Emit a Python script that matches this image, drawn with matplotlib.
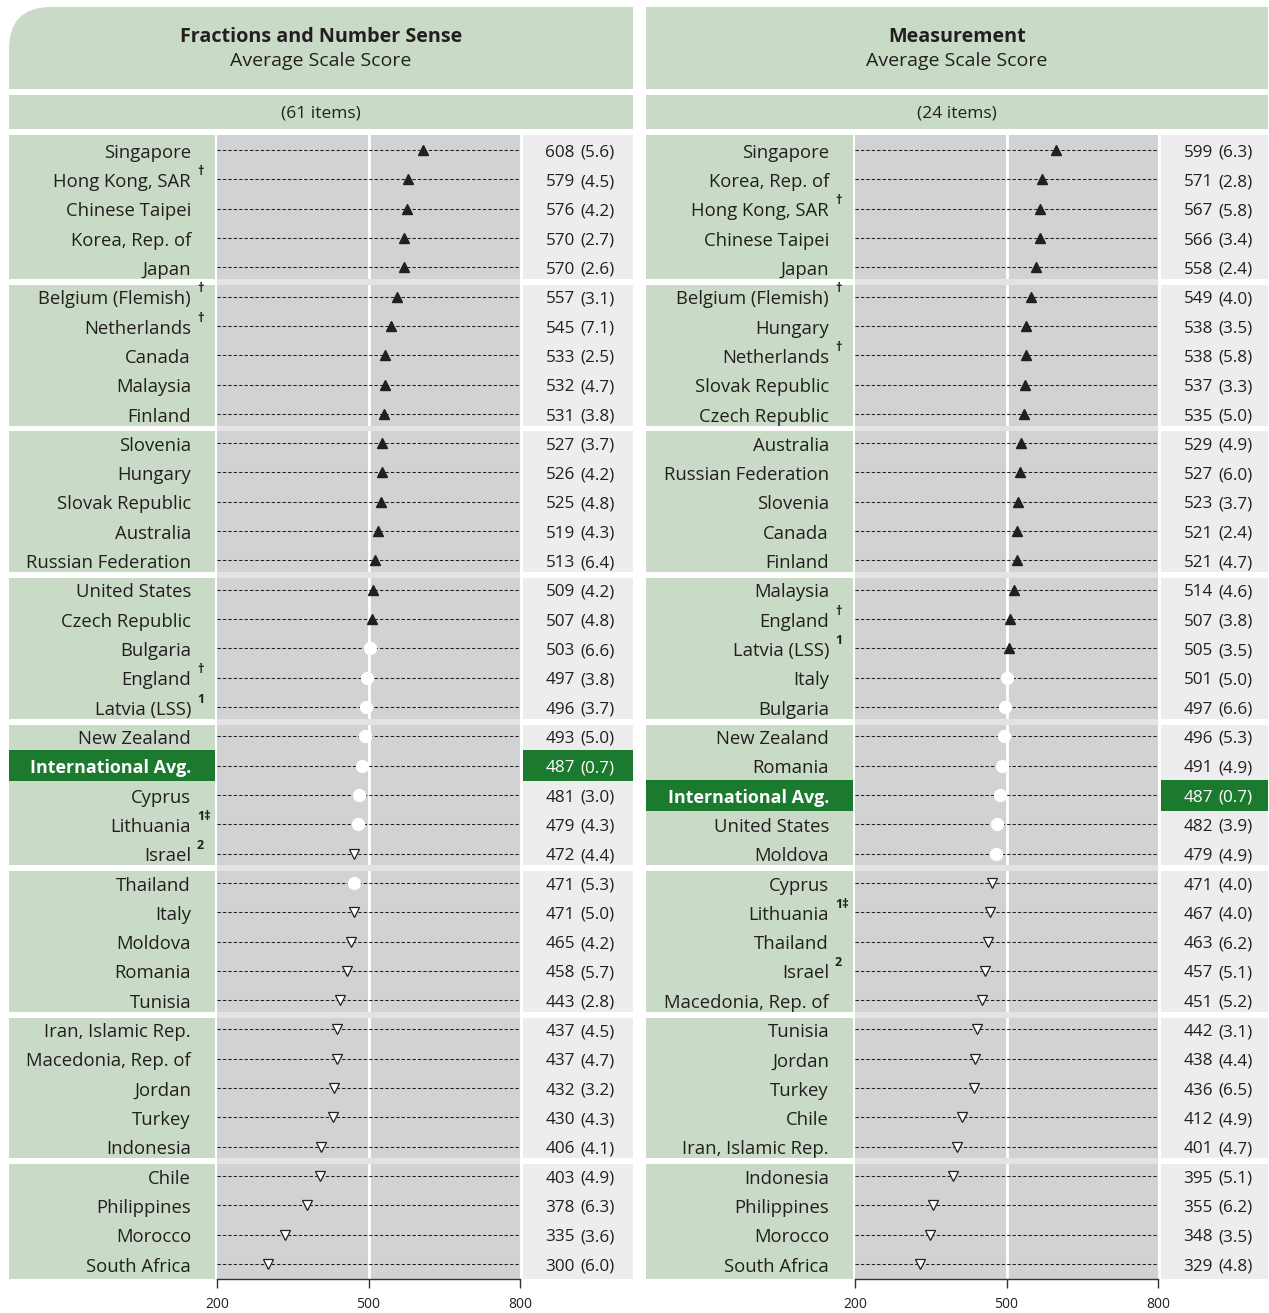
import matplotlib
matplotlib.use("Agg")
import matplotlib.pyplot as plt
from matplotlib.patches import Rectangle, PathPatch
from matplotlib.path import Path
from matplotlib.transforms import Affine2D

plt.rcParams['font.family'] = ['Open Sans', 'DejaVu Sans']
plt.rcParams['lines.scale_dashes'] = False

W, H = 1269, 1313

# ---- data: Fractions and Number Sense ----
frac_title = "Fractions and Number Sense"
frac_items = "(61 items)"
frac_names = ["Singapore", "Hong Kong, SAR", "Chinese Taipei", "Korea, Rep. of", "Japan",
              "Belgium (Flemish)", "Netherlands", "Canada", "Malaysia", "Finland",
              "Slovenia", "Hungary", "Slovak Republic", "Australia", "Russian Federation",
              "United States", "Czech Republic", "Bulgaria", "England", "Latvia (LSS)",
              "New Zealand", "International Avg.", "Cyprus", "Lithuania", "Israel",
              "Thailand", "Italy", "Moldova", "Romania", "Tunisia",
              "Iran, Islamic Rep.", "Macedonia, Rep. of", "Jordan", "Turkey", "Indonesia",
              "Chile", "Philippines", "Morocco", "South Africa"]
frac_notes = ["", "†", "", "", "",
              "†", "†", "", "", "",
              "", "", "", "", "",
              "", "", "", "†", "1",
              "", "", "", "1‡", "2",
              "", "", "", "", "",
              "", "", "", "", "",
              "", "", "", ""]
frac_scores = [608, 579, 576, 570, 570, 557, 545, 533, 532, 531,
               527, 526, 525, 519, 513, 509, 507, 503, 497, 496,
               493, 487, 481, 479, 472, 471, 471, 465, 458, 443,
               437, 437, 432, 430, 406, 403, 378, 335, 300]
frac_se = [5.6, 4.5, 4.2, 2.7, 2.6, 3.1, 7.1, 2.5, 4.7, 3.8,
           3.7, 4.2, 4.8, 4.3, 6.4, 4.2, 4.8, 6.6, 3.8, 3.7,
           5.0, 0.7, 3.0, 4.3, 4.4, 5.3, 5.0, 4.2, 5.7, 2.8,
           4.5, 4.7, 3.2, 4.3, 4.1, 4.9, 6.3, 3.6, 6.0]
# 1 = significantly higher, 0 = no difference, -1 = significantly lower
frac_sig = [1] * 17 + [0, 0, 0, 0, 0, 0, 0, -1, 0] + [-1] * 13

# ---- data: Measurement ----
meas_title = "Measurement"
meas_items = "(24 items)"
meas_names = ["Singapore", "Korea, Rep. of", "Hong Kong, SAR", "Chinese Taipei", "Japan",
              "Belgium (Flemish)", "Hungary", "Netherlands", "Slovak Republic", "Czech Republic",
              "Australia", "Russian Federation", "Slovenia", "Canada", "Finland",
              "Malaysia", "England", "Latvia (LSS)", "Italy", "Bulgaria",
              "New Zealand", "Romania", "International Avg.", "United States", "Moldova",
              "Cyprus", "Lithuania", "Thailand", "Israel", "Macedonia, Rep. of",
              "Tunisia", "Jordan", "Turkey", "Chile", "Iran, Islamic Rep.",
              "Indonesia", "Philippines", "Morocco", "South Africa"]
meas_notes = ["", "", "†", "", "",
              "†", "", "†", "", "",
              "", "", "", "", "",
              "", "†", "1", "", "",
              "", "", "", "", "",
              "", "1‡", "", "2", "",
              "", "", "", "", "",
              "", "", "", ""]
meas_scores = [599, 571, 567, 566, 558, 549, 538, 538, 537, 535,
               529, 527, 523, 521, 521, 514, 507, 505, 501, 497,
               496, 491, 487, 482, 479, 471, 467, 463, 457, 451,
               442, 438, 436, 412, 401, 395, 355, 348, 329]
meas_se = [6.3, 2.8, 5.8, 3.4, 2.4, 4.0, 3.5, 5.8, 3.3, 5.0,
           4.9, 6.0, 3.7, 2.4, 4.7, 4.6, 3.8, 3.5, 5.0, 6.6,
           5.3, 4.9, 0.7, 3.9, 4.9, 4.0, 4.0, 6.2, 5.1, 5.2,
           3.1, 4.4, 6.5, 4.9, 4.7, 5.1, 6.2, 3.5, 4.8]
meas_sig = [1] * 18 + [0] * 7 + [-1] * 14

xticks = [200, 500, 800]
group_size = 5

LIGHT_GREEN = '#C9DBC6'
DARK_GREEN = '#1C7A2F'
PLOT_GRAY = '#D1D2D4'
SEP_GRAY = '#E2E3E5'
VAL_GRAY = '#EDEDED'
TXT = '#231F20'

fig = plt.figure(figsize=(W / 100, H / 100), dpi=100)
pix = Affine2D().scale(1 / W, -1 / H).translate(0, 1) + fig.transFigure


def header(x0, x1, title, items, rounded):
    y0, y1 = 7, 89
    r = 42 if rounded else 0
    verts = [(x0, y1), (x1, y1), (x1, y0), (x0 + r, y0), (x0, y0), (x0, y0 + r), (x0, y1)]
    codes = [Path.MOVETO, Path.LINETO, Path.LINETO, Path.LINETO, Path.CURVE3, Path.CURVE3, Path.CLOSEPOLY]
    fig.add_artist(PathPatch(Path(verts, codes), transform=pix, fc=LIGHT_GREEN, ec='none'))
    fig.add_artist(Rectangle((x0, 95), x1 - x0, 34, transform=pix, fc=LIGHT_GREEN, ec='none'))
    xc = (x0 + x1) / 2
    fig.text(xc / W, 1 - 37 / H, title, ha='center', va='center', fontsize=14.2,
             fontweight='bold', color=TXT)
    fig.text(xc / W, 1 - 61 / H, "Average Scale Score", ha='center', va='center',
             fontsize=14, color=TXT)
    fig.text(xc / W, 1 - 113 / H, items, ha='center', va='center', fontsize=12.5, color=TXT)


def panel(x0, x1, px0, px1, title, items, names, notes, scores, se, sig, rounded):
    header(x0, x1, title, items, rounded)
    n = len(names)
    top, bot = 135.4, 1278.6
    ax = fig.add_axes([px0 / W, 1 - bot / H, (px1 - px0) / W, (bot - top) / H])
    ax.set_xlim(200, 800)
    ax.set_ylim(n - 0.5, -0.5)
    ax.set_facecolor(PLOT_GRAY)
    for s in ['top', 'left', 'right']:
        ax.spines[s].set_visible(False)
    ax.spines['bottom'].set_color('#333333')
    ax.spines['bottom'].set_linewidth(1.0)
    ax.set_yticks([])
    ax.set_xticks(xticks)
    ax.tick_params(axis='x', length=6.5, width=1, color='#333333', pad=7,
                   labelsize=10, labelcolor=TXT)
    ax.axvline(500, color='white', lw=2, zorder=1)

    span = px1 - px0
    f = lambda p: p / span  # pixel offset -> axes fraction
    tr = ax.get_yaxis_transform()
    dy = 0.09  # text sits a little low in the row

    # group separators and column backgrounds
    for g in range(0, n, group_size):
        e = min(g + group_size, n) - 1
        ya = g - 0.5 + (0.1 if g > 0 else 0)
        yb = e + 0.5 - (0.1 if e < n - 1 else 0)
        ax.add_patch(Rectangle((f(x0 - px0), ya), f(px0 - 2 - x0), yb - ya, transform=tr,
                               fc=LIGHT_GREEN, ec='none', clip_on=False))
        ax.add_patch(Rectangle((1 + f(3), ya), f(x1 - px1 - 3), yb - ya, transform=tr,
                               fc=VAL_GRAY, ec='none', clip_on=False))
        if g > 0:
            ax.axhspan(g - 0.6, g - 0.4, color=SEP_GRAY, lw=0, zorder=1.5)

    rows = list(range(n))
    ax.hlines(rows, 200, 800, colors=TXT, linestyles=(0, (2.4, 1.5)), lw=0.75, zorder=2)

    for i in rows:
        avg = names[i].startswith("International")
        if avg:
            ax.add_patch(Rectangle((f(x0 - px0), i - 0.52), f(px0 - 2 - x0), 1.06, transform=tr,
                                   fc=DARK_GREEN, ec='none', clip_on=False, zorder=3))
            ax.add_patch(Rectangle((1 + f(3), i - 0.52), f(x1 - px1 - 3), 1.06, transform=tr,
                                   fc=DARK_GREEN, ec='none', clip_on=False, zorder=3))
        col = 'white' if avg else TXT
        ax.text(f(-26), i + dy, names[i], transform=tr, ha='right', va='center',
                fontsize=12.9 if avg else 13.3, color=col,
                fontweight='bold' if avg else 'normal', zorder=4)
        if notes[i]:
            ax.text(f(-20), i - 0.27, notes[i], transform=tr, ha='left', va='center',
                    fontsize=9, fontweight='bold', color=TXT, zorder=4)
        ax.text(1 + f(55), i + dy, str(scores[i]), transform=tr, ha='right', va='center',
                fontsize=12.3, color=col, zorder=4)
        ax.text(1 + f(60), i + dy, "(%.1f)" % se[i], transform=tr, ha='left', va='center',
                fontsize=12.3, color=col, zorder=4)

    up = [i for i in rows if sig[i] > 0]
    eq = [i for i in rows if sig[i] == 0]
    dn = [i for i in rows if sig[i] < 0]
    ax.plot([scores[i] for i in up], up, ls='none', marker='^', ms=7.5,
            mfc=TXT, mec=TXT, zorder=5)
    ax.plot([scores[i] for i in eq], eq, ls='none', marker='o', ms=8.5,
            mfc='white', mec='white', zorder=5)
    ax.plot([scores[i] for i in dn], dn, ls='none', marker='v', ms=7,
            mfc='white', mec=TXT, mew=0.9, zorder=5)


panel(9, 633, 217, 520, frac_title, frac_items, frac_names, frac_notes,
      frac_scores, frac_se, frac_sig, True)
panel(646, 1268, 855, 1158, meas_title, meas_items, meas_names, meas_notes,
      meas_scores, meas_se, meas_sig, False)

fig.savefig("out.png", dpi=100)
